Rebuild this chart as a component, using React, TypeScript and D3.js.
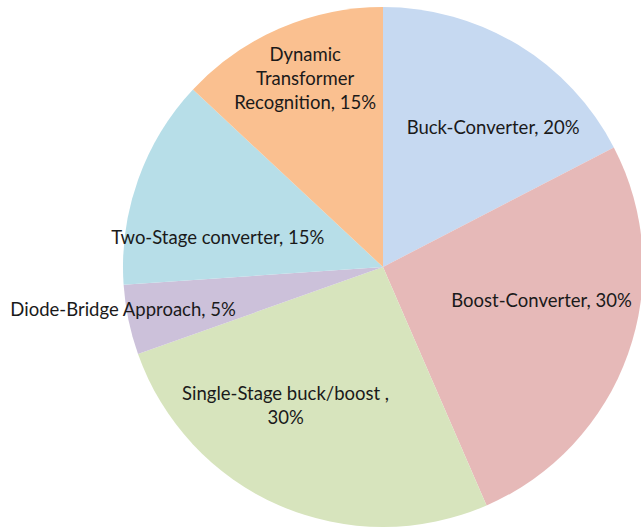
import React from "react";
import * as d3 from "d3";

const categories = [
  "Buck-Converter",
  "Boost-Converter",
  "Single-Stage buck/boost",
  "Diode-Bridge Approach",
  "Two-Stage converter",
  "Dynamic Transformer Recognition",
];
const values = [20, 30, 30, 5, 15, 15];
const labelLines = [
  ["Buck-Converter, 20%"],
  ["Boost-Converter, 30%"],
  ["Single-Stage buck/boost ,", "30%"],
  ["Diode-Bridge Approach, 5%"],
  ["Two-Stage converter, 15%"],
  ["Dynamic", "Transformer", "Recognition, 15%"],
];
const colors = ["#c6d9f1", "#e6b9b8", "#d7e4bd", "#ccc1da", "#b7dee8", "#fac090"];

// label placement (layout only): radius fraction and angle offset (deg) from slice mid-angle
const labelRadius = [0.685, 0.623, 0.652, 1.013, 0.646, 0.783];
const labelAngleOffset = [6.9, -7.7, 11.6, 2.5, -9.3, 1.0];

const W = 641;
const H = 529;
const cx = 383;
const cy = 267;
const R = 260;

export default function App() {
  const pie = d3
    .pie<number>()
    .sort(null)
    .value((d) => d)
    .startAngle(0)
    .endAngle(2 * Math.PI);
  const arcs = pie(values);
  const arc = d3.arc<d3.PieArcDatum<number>>().innerRadius(0).outerRadius(R);
  const lineH = 24;
  return (
    <svg
      width={W}
      height={H}
      style={{ position: "absolute", left: 0, top: 0, background: "#fff" }}
    >
      <g transform={`translate(${cx},${cy})`}>
        {arcs.map((a, i) => (
          <path key={categories[i]} d={arc(a) || ""} fill={colors[i]} />
        ))}
        {arcs.map((a, i) => {
          const mid = (a.startAngle + a.endAngle) / 2 + (labelAngleOffset[i] * Math.PI) / 180;
          const [x, y] = d3.pointRadial(mid, R * labelRadius[i]);
          const lines = labelLines[i];
          const y0 = y - ((lines.length - 1) * lineH) / 2;
          return (
            <text
              key={"l" + i}
              textAnchor="middle"
              fontFamily="Lato, 'Open Sans', sans-serif"
              fontSize={18.5}
              fill="#1a1a1a"
            >
              {lines.map((t, j) => (
                <tspan key={j} x={x} y={y0 + j * lineH} dy="0.35em">
                  {t}
                </tspan>
              ))}
            </text>
          );
        })}
      </g>
    </svg>
  );
}
